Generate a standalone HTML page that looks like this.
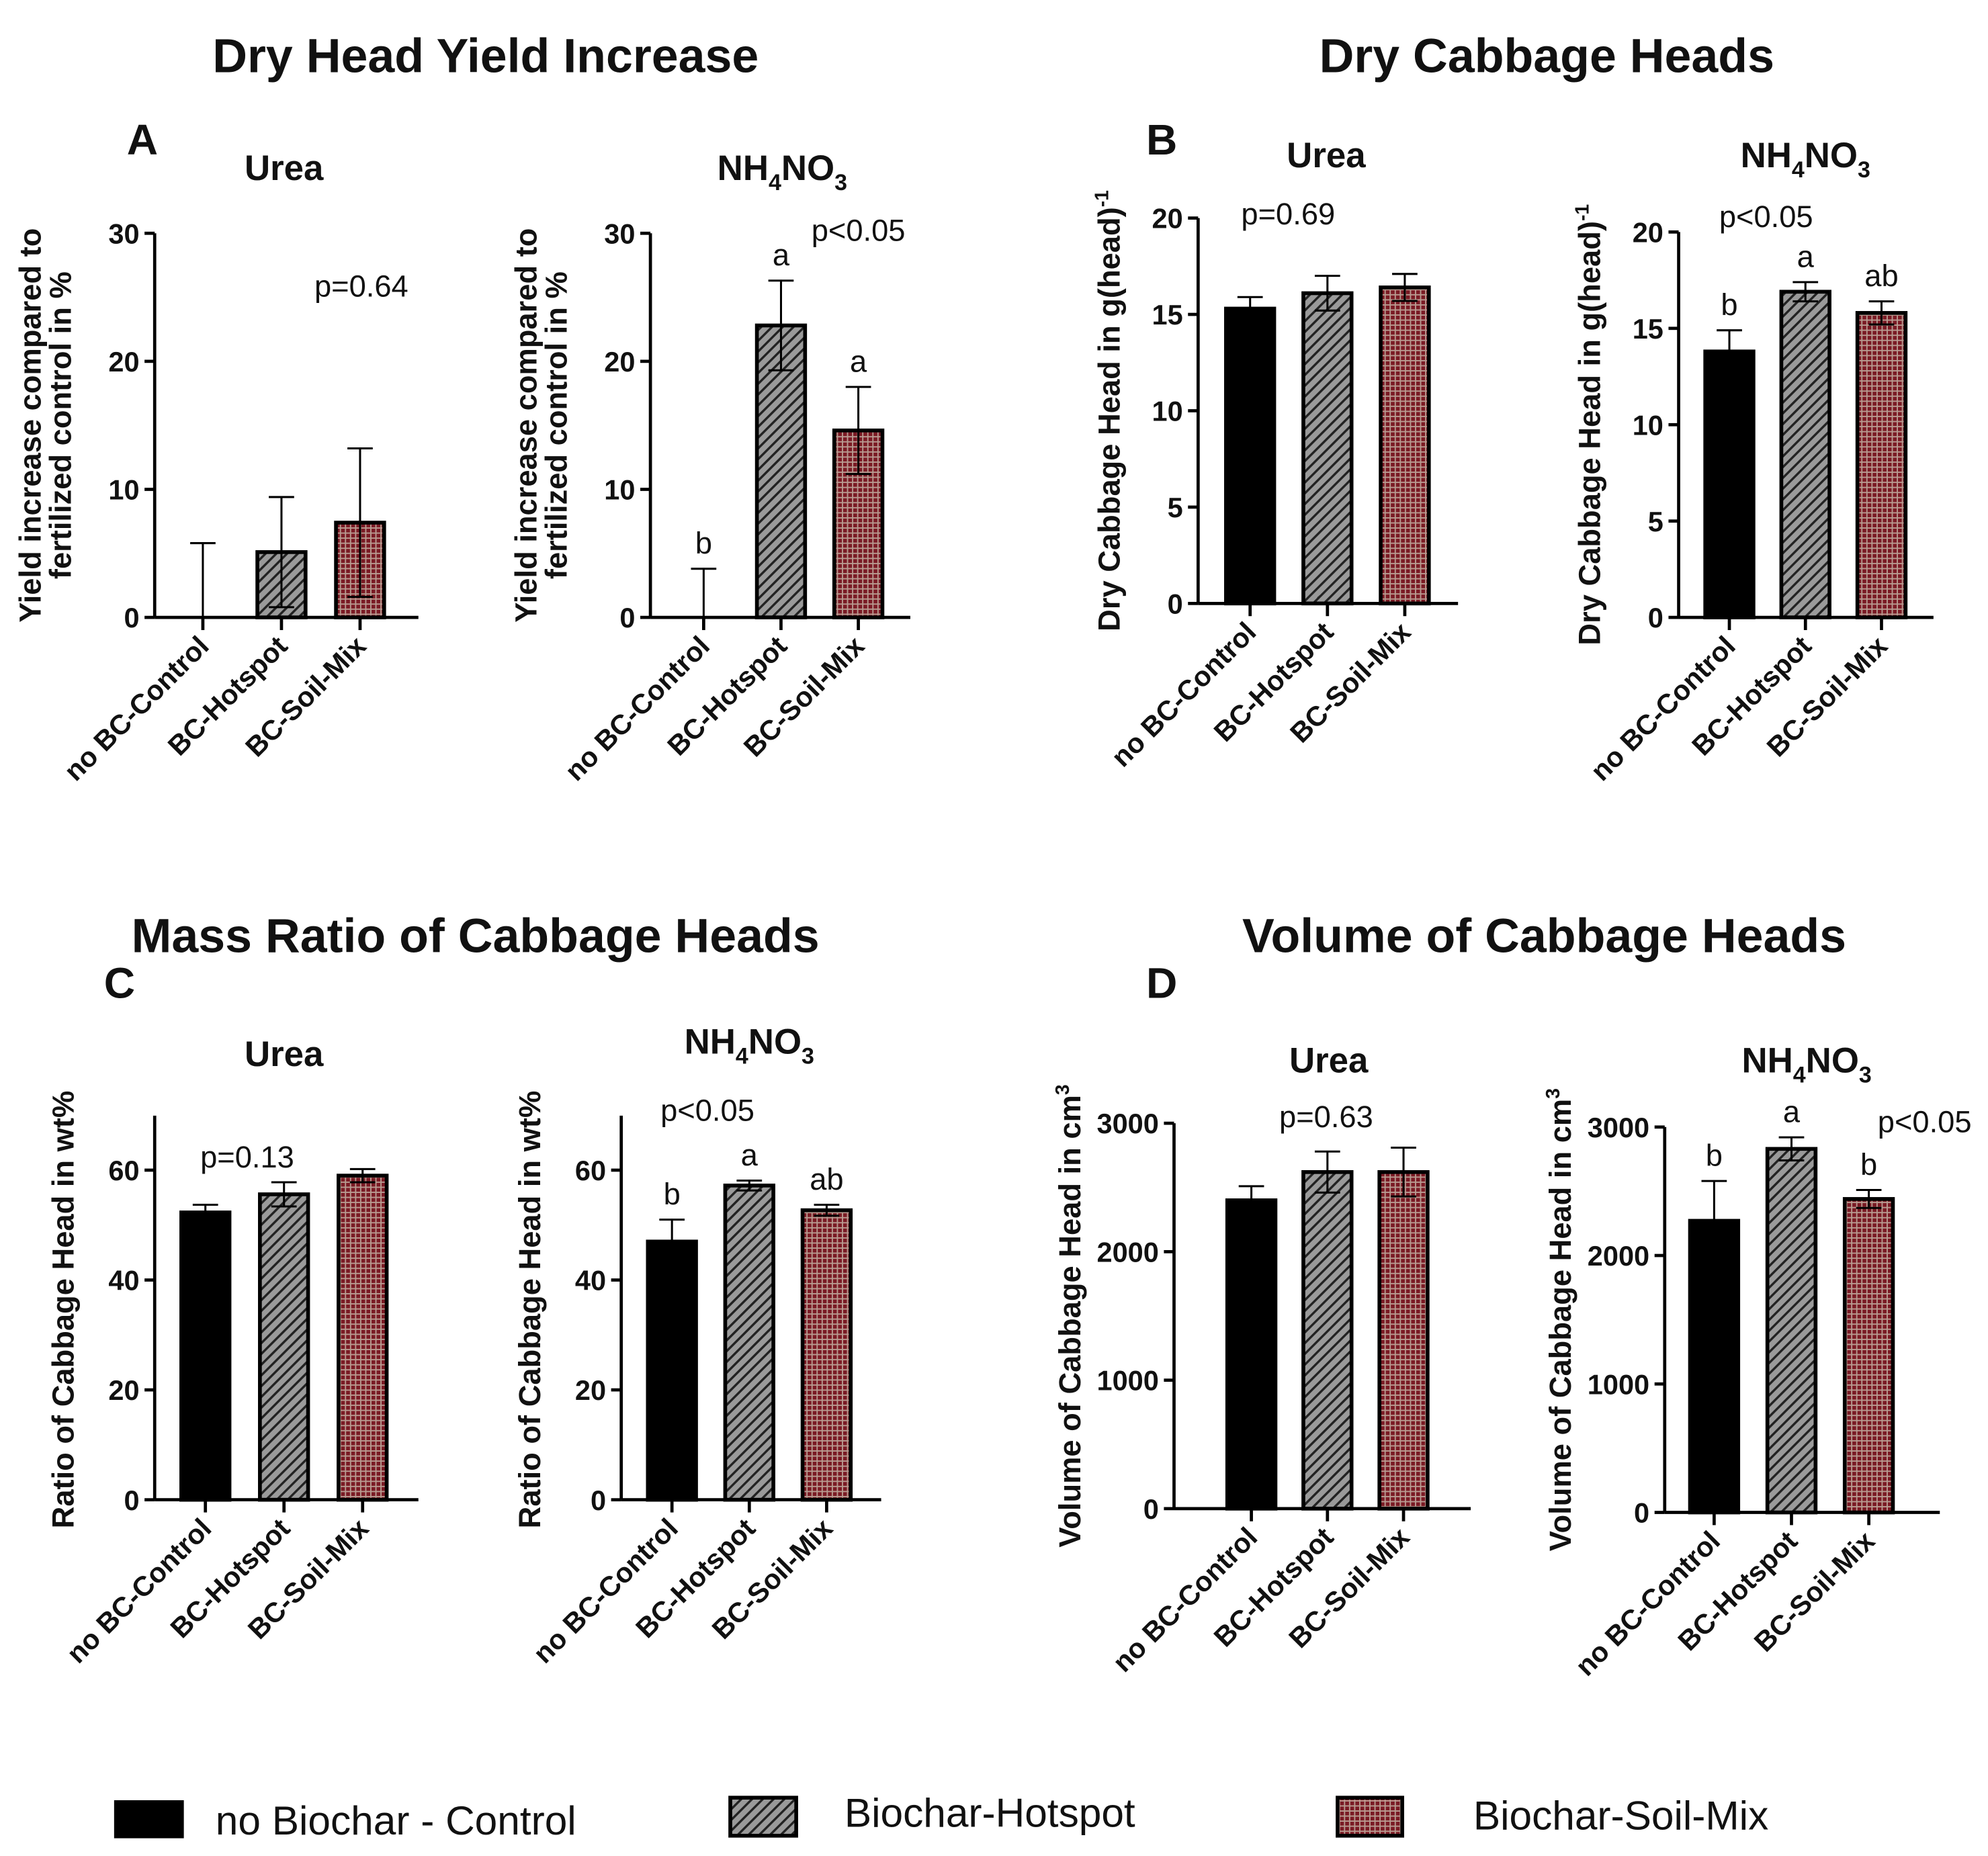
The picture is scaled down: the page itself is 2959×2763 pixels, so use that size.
<!DOCTYPE html>
<html><head><meta charset="utf-8">
<style>
html,body{margin:0;padding:0;background:#fff;}
svg{display:block;font-family:"Liberation Sans",Arial,sans-serif;}
</style></head>
<body>
<svg id="fig" width="2959" height="2763" viewBox="0 0 1568 1464" preserveAspectRatio="none" xmlns="http://www.w3.org/2000/svg">
<defs>
<pattern id="hatch" patternUnits="userSpaceOnUse" width="6" height="6" patternTransform="rotate(45)">
<rect width="6" height="6" fill="#9a9a9a"/><rect width="1.8" height="6" fill="#222"/>
</pattern>
<pattern id="grid" patternUnits="userSpaceOnUse" width="4" height="4">
<rect width="4" height="4" fill="#7a1a24"/><rect width="4" height="1" fill="#b89a90"/><rect width="1" height="4" fill="#b89a90"/>
</pattern>
</defs>
<g font-weight="bold" font-size="38" text-anchor="middle" fill="#111">
<text x="383" y="57">Dry Head Yield Increase</text>
<text x="1220" y="57">Dry Cabbage Heads</text>
<text x="375" y="751">Mass Ratio of Cabbage Heads</text>
<text x="1218" y="751">Volume of Cabbage Heads</text>
</g>
<g font-weight="bold" font-size="34" fill="#111">
<text x="100" y="122">A</text>
<text x="904" y="122">B</text>
<text x="82" y="787">C</text>
<text x="904" y="787">D</text>
</g>
<g id="charts"></g>
<g font-size="32" fill="#111">
<rect x="90" y="1420" width="55" height="30" fill="#000"/>
<text x="170" y="1447">no Biochar - Control</text>
<rect x="576" y="1418" width="52" height="30" fill="url(#hatch)" stroke="#000" stroke-width="3"/>
<text x="666" y="1441">Biochar-Hotspot</text>
<rect x="1055" y="1418" width="51" height="30" fill="url(#grid)" stroke="#000" stroke-width="3"/>
<text x="1162" y="1443">Biochar-Soil-Mix</text>
</g>
</svg>
<script>
const categories = ["no BC-Control","BC-Hotspot","BC-Soil-Mix"];
const aUreaValues = [0, 5.1, 7.4];
const aUreaErrors = [5.8, 4.3, 5.8];
const aNhValues = [0, 22.8, 14.6];
const aNhErrors = [3.8, 3.5, 3.4];
const aTicks = [0, 10, 20, 30];
const bUreaValues = [15.3, 16.1, 16.4];
const bUreaErrors = [0.6, 0.9, 0.7];
const bNhValues = [13.8, 16.9, 15.8];
const bNhErrors = [1.1, 0.5, 0.6];
const bTicks = [0, 5, 10, 15, 20];
const cUreaValues = [52.3, 55.6, 59.0];
const cUreaErrors = [1.4, 2.2, 1.2];
const cNhValues = [47.0, 57.2, 52.7];
const cNhErrors = [4.0, 0.9, 1.0];
const cTicks = [0, 20, 40, 60];
const dUreaValues = [2400, 2620, 2620];
const dUreaErrors = [110, 160, 190];
const dNhValues = [2270, 2830, 2440];
const dNhErrors = [310, 90, 70];
const dTicks = [0, 1000, 2000, 3000];
const aNhLetters = ["b","a","a"];
const bNhLetters = ["b","a","ab"];
const cNhLetters = ["b","a","ab"];
const dNhLetters = ["b","a","b"];

const NS = "http://www.w3.org/2000/svg";
const root = document.getElementById("charts");
const fills = ["#000","url(#hatch)","url(#grid)"];
function el(tag, attrs, parent){const e=document.createElementNS(NS,tag);for(const k in attrs)e.setAttribute(k,attrs[k]);(parent||root).appendChild(e);return e;}

function chart(id, cfg, values, errors, ticks, letters){
  const g = el("g",{});
  
  
  const y = v => cfg.y0 - v / cfg.max * (cfg.y0 - cfg.yTop);
  const xs = i => cfg.x0 + cfg.first + i * cfg.step;
  const ax = el("line",{x1:cfg.x0,y1:cfg.axTop!==undefined?cfg.axTop:cfg.yTop,x2:cfg.x0,y2:cfg.y0,stroke:"#000","stroke-width":2.5},g);
  
  
  const xa = el("line",{x1:cfg.x0,y1:cfg.y0,x2:cfg.xEnd,y2:cfg.y0,stroke:"#000","stroke-width":2.5},g);
  
  
  ticks.forEach(t=>{
    el("line",{x1:cfg.x0-8,y1:y(t),x2:cfg.x0,y2:y(t),stroke:"#000","stroke-width":2.5},g);
    const tl = el("text",{x:cfg.x0-12,y:y(t)+8,"text-anchor":"end","font-size":22,"font-weight":"bold",fill:"#111"},g);
    tl.textContent = t;
    
    
  });
  values.forEach((v,i)=>{
    const cx = xs(i), w = 38;
    const top = y(v);
    const b = el("rect",{x:cx-w/2,y:top,width:w,height:Math.max(0,cfg.y0-top),fill:fills[i],stroke:"#000","stroke-width":3},g);
    
    
    const e = errors[i], hi = y(v+e), lo = y(Math.max(0,v-e));
    const eb = el("path",{d:`M${cx},${lo}V${hi}M${cx-10},${hi}H${cx+10}M${cx-10},${lo}H${cx+10}`,stroke:"#000","stroke-width":1.6,fill:"none"},g);
    
    
    el("line",{x1:cx,y1:cfg.y0,x2:cx,y2:cfg.y0+10,stroke:"#000","stroke-width":2.5},g);
    const lb = el("text",{transform:`translate(${cx+6},${cfg.y0+24}) rotate(-45)`,"text-anchor":"end","font-size":22,"font-weight":"bold",fill:"#111"},g);
    lb.textContent = categories[i];
    
    
    if(letters){
      const lt = el("text",{x:cx,y:hi-12,"text-anchor":"middle","font-size":24,fill:"#111"},g);
      lt.textContent = letters[i];
      
      
    }
  });
  const yl = el("text",{transform:`translate(${cfg.x0-cfg.labOff},${(cfg.y0+cfg.yTop)/2+cfg.labDy}) rotate(-90)`,"text-anchor":"middle","font-size":24,"font-weight":"bold",fill:"#111"},g);
  cfg.ylab.forEach((line,k)=>{
    const ts = el("tspan",{x:0,dy:k?24:0},yl);
    ts.innerHTML = line;
  });
  
  
  const st = el("text",{x:cfg.subX,y:cfg.subY,"text-anchor":"middle","font-size":28,"font-weight":"bold",fill:"#111"},g);
  st.innerHTML = cfg.sub==="u" ? "Urea" : 'NH<tspan font-size="18" dy="8">4</tspan><tspan dy="-8">NO</tspan><tspan font-size="18" dy="8">3</tspan>';
  
  
  const p = el("text",{x:cfg.pX,y:cfg.pY,"text-anchor":"middle","font-size":24,fill:"#111"},g);
  p.textContent = cfg.p;
  
  
}
const aLab=["Yield increase compared to","fertilized control in %"];
const bLab=['Dry Cabbage Head in g(head)<tspan font-size="15" dy="-9">-1</tspan>'];
const cLab=["Ratio of Cabbage Head in wt%"];
const dLab=['Volume of Cabbage Head in cm<tspan font-size="15" dy="-9">3</tspan>'];
chart("chart-a-urea",{x0:122,y0:487,yTop:184,max:30,first:38,step:62,xEnd:330,ylab:aLab,labOff:90,labDy:0,sub:"u",subX:224,subY:142,p:"p=0.64",pX:285,pY:234},aUreaValues,aUreaErrors,aTicks,null);
chart("chart-a-nh4no3",{x0:513,y0:487,yTop:184,max:30,first:42,step:61,xEnd:718,ylab:aLab,labOff:90,labDy:0,sub:"n",subX:617,subY:142,p:"p<0.05",pX:677,pY:190},aNhValues,aNhErrors,aTicks,aNhLetters);
chart("chart-b-urea",{x0:945,y0:476,yTop:172,max:20,first:41,step:61,xEnd:1150,ylab:bLab,labOff:62,labDy:0,sub:"u",subX:1046,subY:132,p:"p=0.69",pX:1016,pY:177},bUreaValues,bUreaErrors,bTicks,null);
chart("chart-b-nh4no3",{x0:1324,y0:487,yTop:183,max:20,first:40,step:60,xEnd:1525,ylab:bLab,labOff:62,labDy:0,sub:"n",subX:1424,subY:132,p:"p<0.05",pX:1393,pY:179},bNhValues,bNhErrors,bTicks,bNhLetters);
chart("chart-c-urea",{x0:122,y0:1183,yTop:923,axTop:880,max:60,first:40,step:62,xEnd:330,ylab:cLab,labOff:64,labDy:-20,sub:"u",subX:224,subY:841,p:"p=0.13",pX:195,pY:921},cUreaValues,cUreaErrors,cTicks,null);
chart("chart-c-nh4no3",{x0:490,y0:1183,yTop:923,axTop:880,max:60,first:40,step:61,xEnd:695,ylab:cLab,labOff:64,labDy:-20,sub:"n",subX:591,subY:831,p:"p<0.05",pX:558,pY:884},cNhValues,cNhErrors,cTicks,cNhLetters);
chart("chart-d-urea",{x0:926,y0:1190,yTop:886,max:3000,first:61,step:60,xEnd:1160,ylab:dLab,labOff:74,labDy:0,sub:"u",subX:1048,subY:846,p:"p=0.63",pX:1046,pY:889},dUreaValues,dUreaErrors,dTicks,null);
chart("chart-d-nh4no3",{x0:1313,y0:1193,yTop:889,max:3000,first:39,step:61,xEnd:1530,ylab:dLab,labOff:74,labDy:0,sub:"n",subX:1425,subY:846,p:"p<0.05",pX:1518,pY:893},dNhValues,dNhErrors,dTicks,dNhLetters);
</script>
</body></html>
